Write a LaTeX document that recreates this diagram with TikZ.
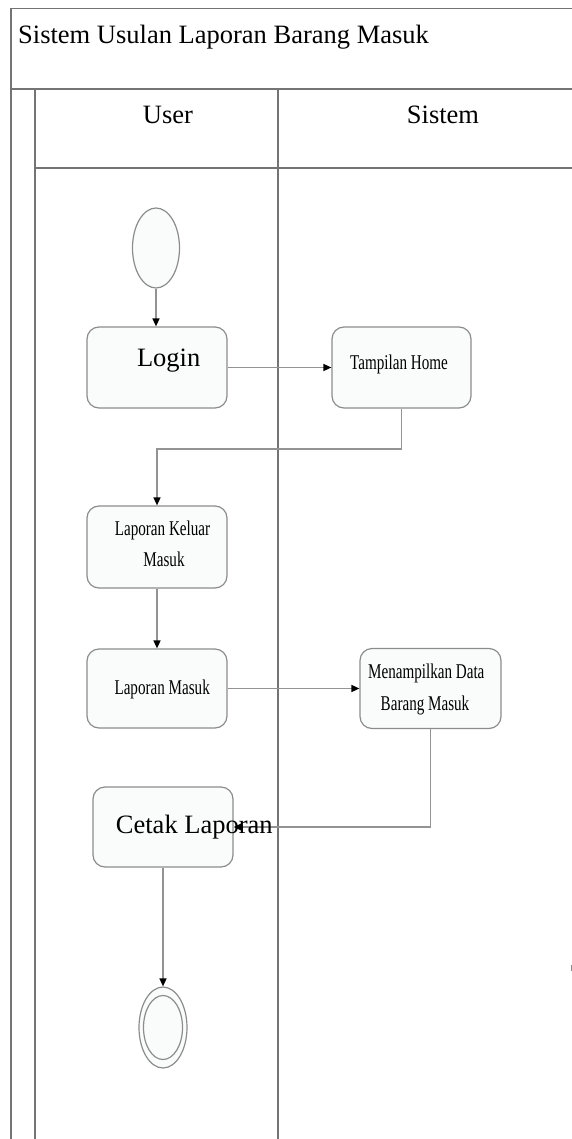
\documentclass[tikz,border=0pt]{standalone}
\usepackage{fontspec}
\setmainfont{Liberation Serif}
\newfontfamily\condfont[FakeStretch=0.72]{Liberation Serif}
\usetikzlibrary{shapes.geometric,arrows.meta}
\definecolor{lanegray}{HTML}{747474}
\definecolor{boxgray}{HTML}{8C8C8C}
\definecolor{linkgray}{HTML}{939393}
\definecolor{boxfill}{HTML}{FAFCFC}
\begin{document}
\begin{tikzpicture}[x=1pt,y=-1pt,
  lane/.style={draw=lanegray,line width=1.3pt},
  act/.style={draw=boxgray,fill=boxfill,rounded corners=12pt,line width=1.2pt,inner sep=0pt},
  terminal/.style={ellipse,draw=boxgray,fill=boxfill,line width=1.2pt,inner sep=0pt},
  flow/.style={draw=linkgray,line width=1.5pt,-{Triangle[length=8pt,width=7pt,color=black]}},
  bigtxt/.style={anchor=base,inner sep=0pt,font=\fontsize{26.5}{30}\selectfont},
  smalltxt/.style={anchor=base,inner sep=0pt,font=\condfont\fontsize{21}{25}\selectfont}]
\useasboundingbox (0,0) rectangle (572,1139);

% pool frame and swimlanes
\draw[lane] (11,1139) -- (11,8.5) -- (572,8.5);
\draw[lane] (11,89) -- (572,89);
\draw[lane] (35,89) -- (35,1139);
\draw[lane] (35,168) -- (572,168);
\draw[lane] (278,89) -- (278,1139);
\draw[draw=boxgray,line width=1pt] (571.5,965) -- (571.5,971);

\node[bigtxt,anchor=base west] (title) at (18,43.3) {Sistem Usulan Laporan Barang Masuk};
\node[bigtxt] (laneuser) at (168,124) {User};
\node[bigtxt] (lanesys) at (443,124) {Sistem};

% activities
\node[terminal,minimum width=47pt,minimum height=80pt] (start) at (156,248) {};
\node[act,minimum width=140pt,minimum height=81pt] (login) at (157,367.5) {};
\node[act,minimum width=139pt,minimum height=81pt] (home) at (401.5,367.5) {};
\node[act,minimum width=140pt,minimum height=82pt] (lkm) at (157,547) {};
\node[act,minimum width=140pt,minimum height=79pt] (lm) at (157,688.5) {};
\node[act,minimum width=141pt,minimum height=80pt] (mdbm) at (430.5,688.5) {};
\node[act,minimum width=140pt,minimum height=80pt] (cetak) at (163,827) {};
\node[terminal,minimum width=48pt,minimum height=81pt] (finalo) at (163,1027.5) {};
\node[terminal,minimum width=39pt,minimum height=64pt] (finali) at (163,1027.5) {};

% activity texts
\node[bigtxt] (logintxt) at (168.7,366.7) {Login};
\node[smalltxt] (hometxt) at (399,369) {Tampilan Home};
\node[smalltxt] (lkmtxta) at (162.5,535) {Laporan Keluar};
\node[smalltxt] (lkmtxtb) at (164,566.7) {Masuk};
\node[smalltxt] (lmtxt) at (162.2,694) {Laporan Masuk};
\node[smalltxt] (mdbmtxta) at (426.3,678) {Menampilkan Data};
\node[smalltxt] (mdbmtxtb) at (425,710) {Barang Masuk};

% flows
\draw[flow] (start.south) -- (start.south |- login.north);
\draw[flow] (login.east) -- (home.west);
\draw[flow] (home.south) -- ++(0,40.5) -| (lkm.north);
\draw[flow] (lkm.south) -- (lm.north);
\draw[flow] (lm.east) -- (mdbm.west);
\draw[flow] (mdbm.south) |- (cetak.east);
\draw[flow] (cetak.south) -- (finalo.north);

\node[bigtxt] (cetaktxt) at (194.3,833) {Cetak Laporan};
\end{tikzpicture}
\end{document}
